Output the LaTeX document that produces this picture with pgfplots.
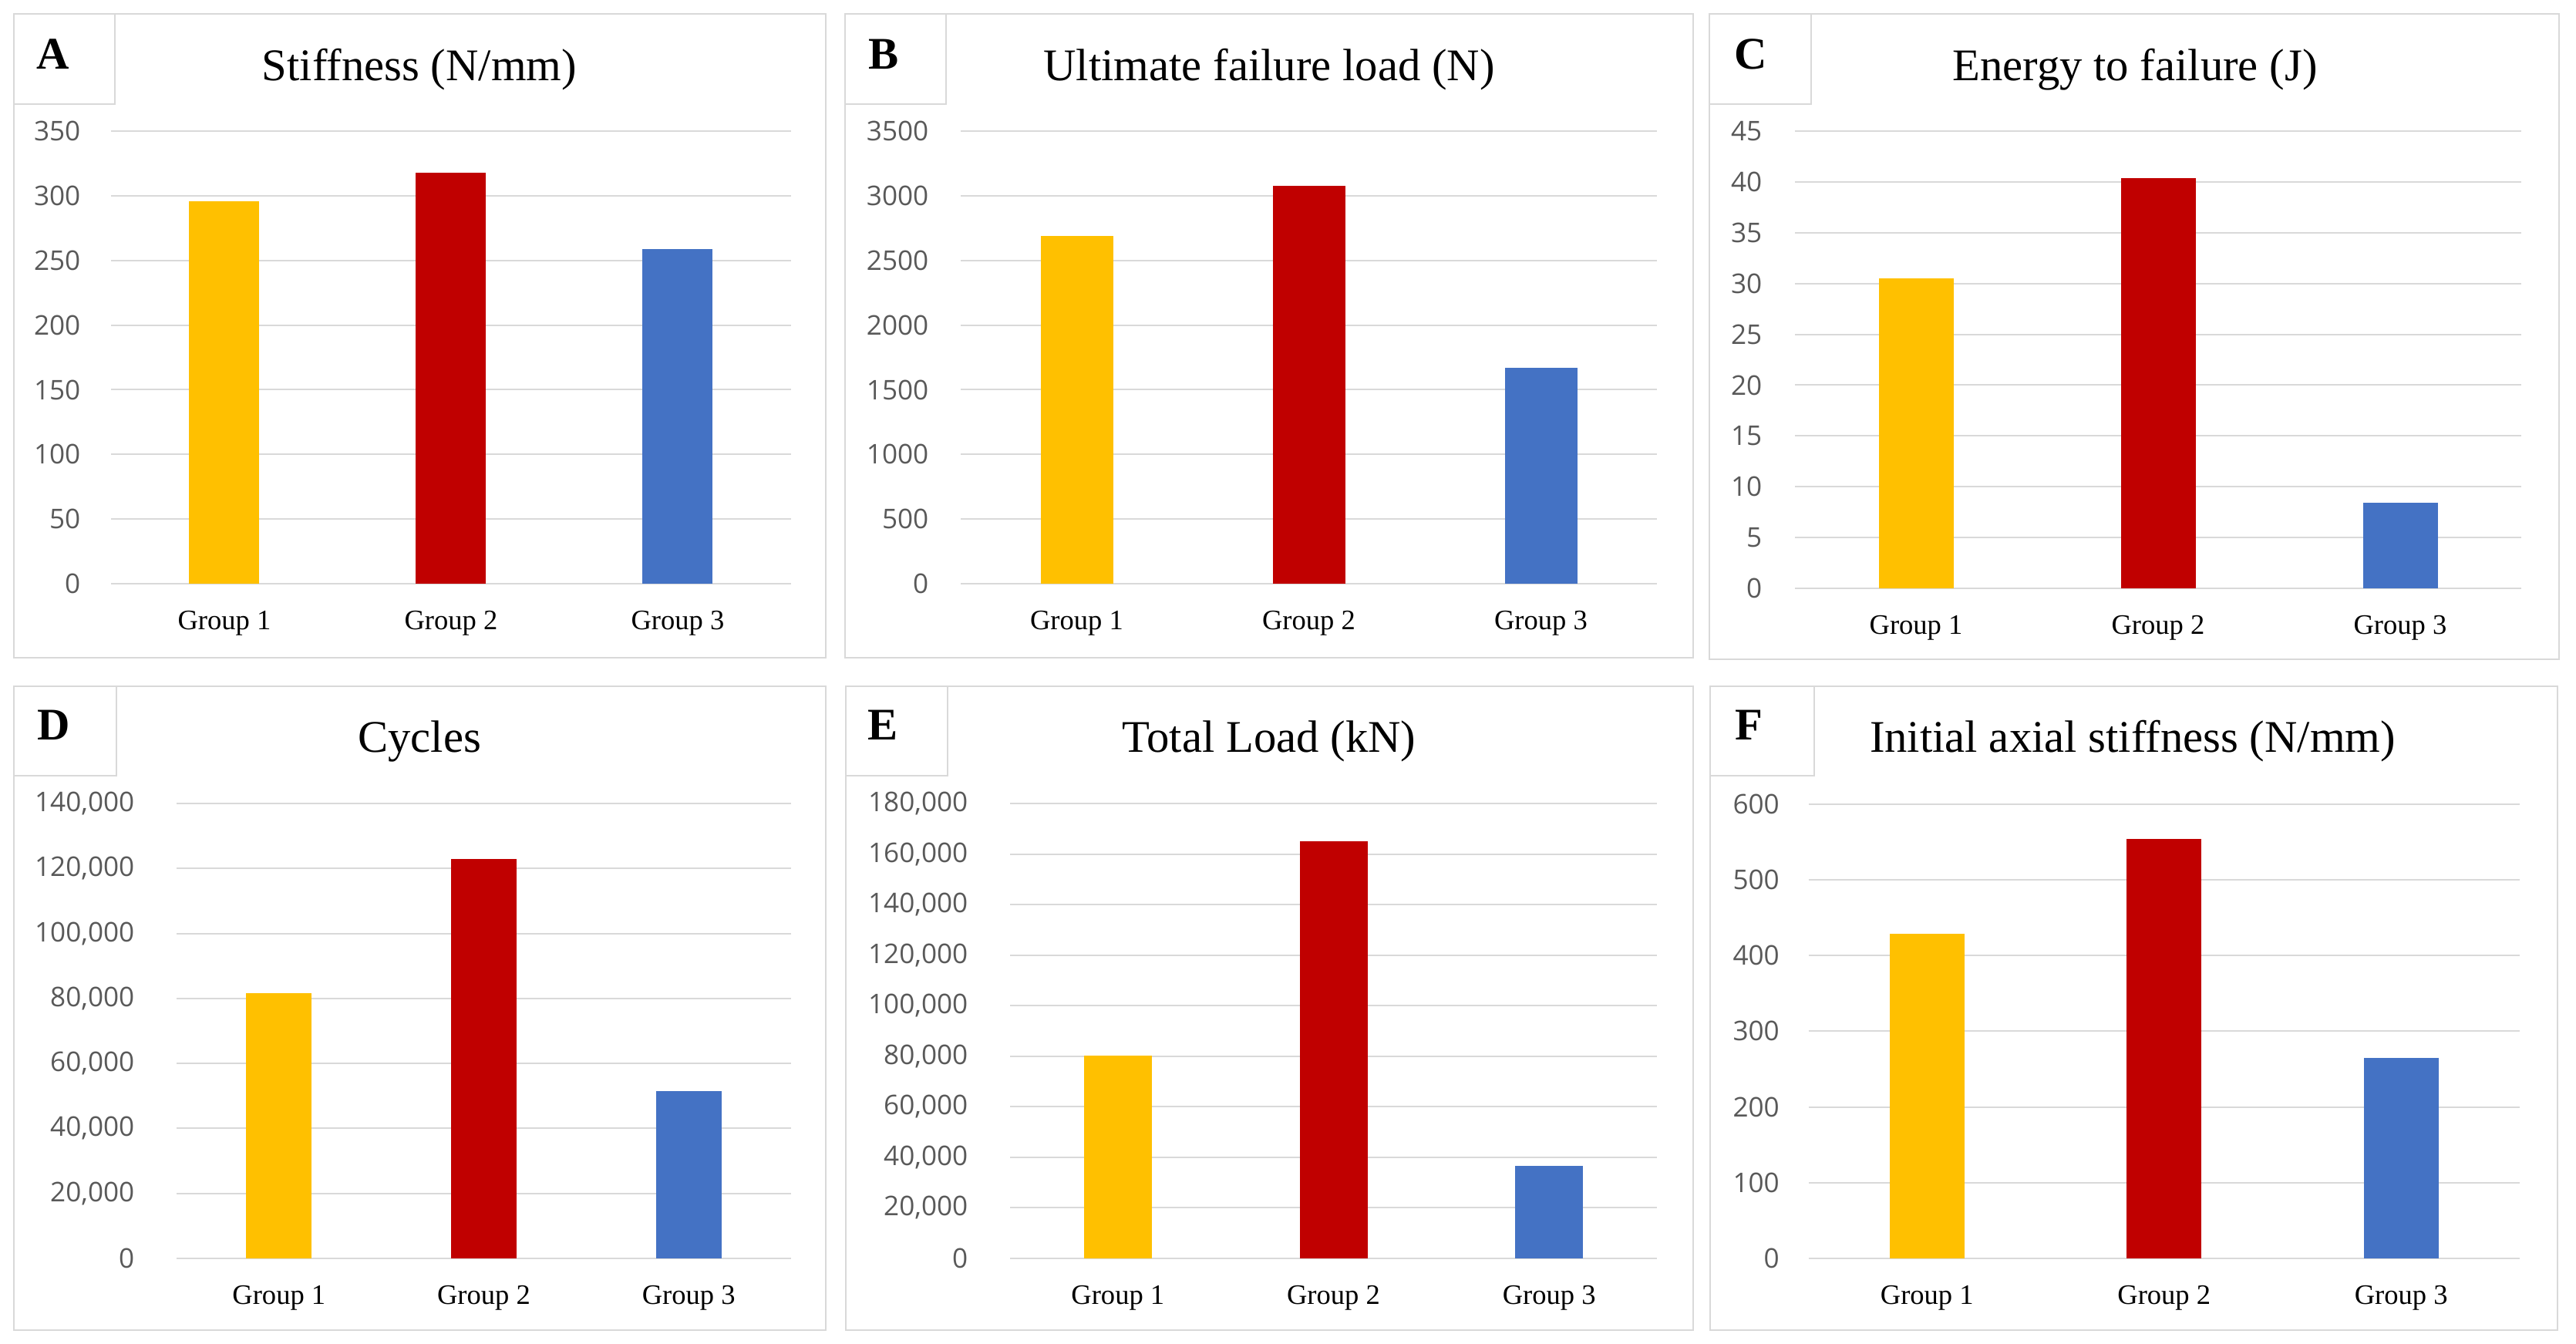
\documentclass[border=0pt]{standalone}
\usepackage{fontspec}
\setmainfont{Liberation Serif}
\newfontfamily\tickfont{Open Sans}
\usepackage{pgfplots}
\pgfplotsset{compat=1.18}
\definecolor{gridc}{HTML}{D9D9D9}
\definecolor{boxc}{HTML}{D9D9D9}
\definecolor{tickc}{HTML}{595959}
\definecolor{cone}{HTML}{FFC000}
\definecolor{ctwo}{HTML}{C00000}
\definecolor{cthree}{HTML}{4472C4}
\pgfplotsset{
  panel/.style={
    scale only axis, anchor=south west,
    xmin=-0.5, xmax=2.5, ymin=0,
    axis line style={draw=none},
    tick style={draw=none},
    ymajorgrids, grid style={draw=gridc, line width=0.2mm},
    xtick={0,1,2}, xticklabels={Group 1,Group 2,Group 3},
    xticklabel style={font=\fontsize{10.4}{12}\selectfont, anchor=base, inner sep=0pt, yshift=-5.9mm},
    yticklabel style={font=\tickfont\fontsize{10}{12}\selectfont, text=tickc, anchor=east, inner sep=0pt},
    scaled y ticks=false,
    /pgf/number format/fixed,
    /pgf/number format/assume math mode=true,
    clip=false,
  },
  bar/.style={ybar, bar shift=0pt, draw=none, fill=#1},
}
\newcommand{\ttl}{\fontsize{16.7}{20}\selectfont}
\begin{document}
\begin{tikzpicture}
\path[use as bounding box] (0,0) rectangle (334.1mm,-174.3mm);
% panel frames
\draw[boxc, line width=0.2mm] (1.75mm,-1.8mm) rectangle (107.1mm,-85.3mm);
\draw[boxc, line width=0.2mm] (109.6mm,-1.8mm) rectangle (219.6mm,-85.3mm);
\draw[boxc, line width=0.2mm] (221.7mm,-1.8mm) rectangle (331.9mm,-85.5mm);
\draw[boxc, line width=0.2mm] (1.75mm,-88.95mm) rectangle (107.1mm,-172.5mm);
\draw[boxc, line width=0.2mm] (109.7mm,-88.95mm) rectangle (219.6mm,-172.5mm);
\draw[boxc, line width=0.2mm] (221.8mm,-88.95mm) rectangle (331.7mm,-172.5mm);
% letter boxes
\draw[boxc, line width=0.2mm] (1.75mm,-1.8mm) rectangle (14.9mm,-13.5mm);
\draw[boxc, line width=0.2mm] (109.6mm,-1.8mm) rectangle (122.7mm,-13.5mm);
\draw[boxc, line width=0.2mm] (221.7mm,-1.8mm) rectangle (234.9mm,-13.5mm);
\draw[boxc, line width=0.2mm] (1.75mm,-88.95mm) rectangle (15.1mm,-100.6mm);
\draw[boxc, line width=0.2mm] (109.7mm,-88.95mm) rectangle (122.9mm,-100.6mm);
\draw[boxc, line width=0.2mm] (221.8mm,-88.95mm) rectangle (235.3mm,-100.6mm);
% letters
\node[font=\bfseries\ttl, anchor=base] at (6.9mm,-8.9mm) {A};
\node[font=\bfseries\ttl, anchor=base] at (114.6mm,-8.9mm) {B};
\node[font=\bfseries\ttl, anchor=base] at (227.1mm,-8.9mm) {C};
\node[font=\bfseries\ttl, anchor=base] at (7.0mm,-95.95mm) {D};
\node[font=\bfseries\ttl, anchor=base] at (114.55mm,-95.95mm) {E};
\node[font=\bfseries\ttl, anchor=base] at (226.8mm,-95.95mm) {F};
% titles
\node[font=\ttl, anchor=base] at (54.4mm,-10.4mm) {Stiffness (N/mm)};
\node[font=\ttl, anchor=base] at (164.6mm,-10.4mm) {Ultimate failure load (N)};
\node[font=\ttl, anchor=base] at (276.9mm,-10.4mm) {Energy to failure (J)};
\node[font=\ttl, anchor=base] at (54.4mm,-97.5mm) {Cycles};
\node[font=\ttl, anchor=base] at (164.6mm,-97.5mm) {Total Load (kN)};
\node[font=\ttl, anchor=base] at (276.6mm,-97.5mm) {Initial axial stiffness (N/mm)};

% A
\begin{axis}[panel, at={(14.4mm,-75.7mm)}, width=88.2mm, height=58.7mm,
  ymax=350, ytick={0,50,...,350}, yticklabel style={xshift=-3.9mm},
  /pgf/number format/1000 sep={}]
\addplot[bar=cone, bar width=9.1mm] coordinates {(0,295.5)};
\addplot[bar=ctwo, bar width=9.1mm] coordinates {(1,318)};
\addplot[bar=cthree, bar width=9.1mm] coordinates {(2,258.5)};
\end{axis}
% B
\begin{axis}[panel, at={(124.6mm,-75.7mm)}, width=90.3mm, height=58.7mm,
  ymax=3500, ytick={0,500,...,3500}, yticklabel style={xshift=-4.1mm},
  /pgf/number format/1000 sep={}]
\addplot[bar=cone, bar width=9.4mm] coordinates {(0,2690)};
\addplot[bar=ctwo, bar width=9.4mm] coordinates {(1,3077)};
\addplot[bar=cthree, bar width=9.4mm] coordinates {(2,1667)};
\end{axis}
% C
\begin{axis}[panel, at={(232.8mm,-76.3mm)}, width=94.2mm, height=59.3mm,
  ymax=45, ytick={0,5,...,45}, yticklabel style={xshift=-4.2mm},
  /pgf/number format/1000 sep={}]
\addplot[bar=cone, bar width=9.7mm] coordinates {(0,30.5)};
\addplot[bar=ctwo, bar width=9.7mm] coordinates {(1,40.4)};
\addplot[bar=cthree, bar width=9.7mm] coordinates {(2,8.4)};
\end{axis}
% D
\begin{axis}[panel, at={(22.9mm,-163.2mm)}, width=79.7mm, height=59.0mm,
  ymax=140000, ytick={0,20000,...,140000}, yticklabel style={xshift=-5.4mm},
  /pgf/number format/1000 sep={,}]
\addplot[bar=cone, bar width=8.5mm] coordinates {(0,81700)};
\addplot[bar=ctwo, bar width=8.5mm] coordinates {(1,123000)};
\addplot[bar=cthree, bar width=8.5mm] coordinates {(2,51600)};
\end{axis}
% E
\begin{axis}[panel, at={(131.0mm,-163.2mm)}, width=83.9mm, height=59.0mm,
  ymax=180000, ytick={0,20000,...,180000}, yticklabel style={xshift=-5.4mm},
  /pgf/number format/1000 sep={,}]
\addplot[bar=cone, bar width=8.8mm] coordinates {(0,80200)};
\addplot[bar=ctwo, bar width=8.8mm] coordinates {(1,165000)};
\addplot[bar=cthree, bar width=8.8mm] coordinates {(2,36700)};
\end{axis}
% F
\begin{axis}[panel, at={(234.55mm,-163.2mm)}, width=92.25mm, height=58.94mm,
  ymax=600, ytick={0,100,...,600}, yticklabel style={xshift=-3.7mm},
  /pgf/number format/1000 sep={}]
\addplot[bar=cone, bar width=9.7mm] coordinates {(0,429)};
\addplot[bar=ctwo, bar width=9.7mm] coordinates {(1,553.5)};
\addplot[bar=cthree, bar width=9.7mm] coordinates {(2,264.5)};
\end{axis}
\end{tikzpicture}
\end{document}
